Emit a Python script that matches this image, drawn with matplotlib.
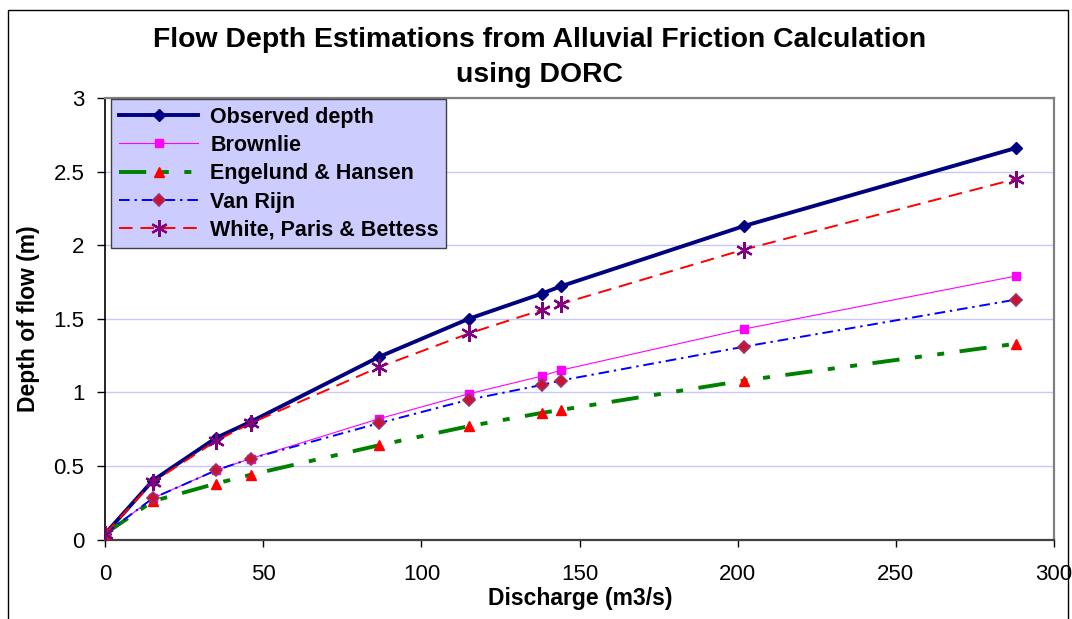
import matplotlib
matplotlib.use("Agg")
import matplotlib.pyplot as plt
from matplotlib.patches import Rectangle

plt.rcParams['font.family'] = ['Liberation Sans', 'DejaVu Sans']

# ---- data ----
discharge = [0, 15, 35, 46, 86.5, 115, 138, 144, 202, 288]
observed = [0.04, 0.40, 0.69, 0.80, 1.24, 1.50, 1.67, 1.72, 2.13, 2.66]
brownlie = [0.04, 0.28, 0.47, 0.55, 0.82, 0.99, 1.11, 1.15, 1.43, 1.79]
engelund = [0.04, 0.26, 0.38, 0.44, 0.64, 0.77, 0.86, 0.88, 1.08, 1.33]
van_rijn = [0.04, 0.28, 0.47, 0.55, 0.79, 0.95, 1.05, 1.08, 1.31, 1.63]
white_pb = [0.04, 0.39, 0.67, 0.79, 1.17, 1.40, 1.56, 1.60, 1.97, 2.45]

x_ticks = [0, 50, 100, 150, 200, 250, 300]
y_ticks = [0, 0.5, 1, 1.5, 2, 2.5, 3]
y_tick_labels = ['0', '0.5', '1', '1.5', '2', '2.5', '3']

title = "Flow Depth Estimations from Alluvial Friction Calculation\nusing DORC"
x_label = "Discharge (m3/s)"
y_label = "Depth of flow (m)"

W, H = 1072, 619
fig = plt.figure(figsize=(W / 100, H / 100), dpi=100)
ax = fig.add_axes([105.3 / W, 1 - 539.5 / H, (1053.7 - 105.3) / W, (539.5 - 98) / H])

# outer chart border
fig.patches.append(Rectangle((8 / W, -0.05), (1068 - 8) / W, 1.05 - 10 / H,
                             transform=fig.transFigure, fill=False,
                             edgecolor='black', linewidth=1.0))

# series
ax.plot(discharge, observed, color='#000080', lw=2.8, marker='D', ms=6,
        mfc='#000080', mec='#000080', label='Observed depth', zorder=3)
ax.plot(discharge, brownlie, color='#FF00FF', lw=0.8, marker='s', ms=6,
        mfc='#FF00FF', mec='#FF00FF', label='Brownlie', zorder=4)
ax.plot(discharge, engelund, color='#008000', lw=2.8,
        linestyle=(0, (7, 4, 1.8, 4, 1.8, 4)), marker='^', ms=7.5,
        mfc='#FF0000', mec='#FF0000', label='Engelund & Hansen', zorder=5)
ax.plot(discharge, van_rijn, color='#0000FF', lw=1.4,
        linestyle=(0, (5.5, 2.5, 1.2, 2.5)), marker='D', ms=6,
        mfc='#CC1133', mec='#993366', mew=1.2, label='Van Rijn', zorder=6)
ax.plot(discharge, white_pb, color='#FF0000', lw=1.4,
        linestyle=(0, (7, 4)), marker=(6, 2, 0), ms=12, mew=1.6,
        mfc='#800080', mec='#800080', label='White, Paris & Bettess', zorder=7)

ax.set_xlim(0, 300)
ax.set_ylim(0, 3)
ax.set_xticks(x_ticks)
ax.set_yticks(y_ticks)
ax.set_yticklabels(y_tick_labels)
ax.tick_params(axis='both', labelsize=16, direction='out', colors='black',
               width=1.0)
ax.tick_params(axis='y', length=6, pad=9)
ax.tick_params(axis='x', length=5, pad=13)

ax.grid(axis='y', color='#C8C8FF', linewidth=1.0)
ax.set_axisbelow(True)

for side in ('top', 'right'):
    ax.spines[side].set_color('#808080')
    ax.spines[side].set_linewidth(1.6)
ax.spines['left'].set_color('black')
ax.spines['left'].set_linewidth(1.2)
ax.spines['bottom'].set_color('#404040')
ax.spines['bottom'].set_linewidth(1.6)

ax.set_xlabel(x_label, fontsize=16.5, fontweight='bold')
ax.set_ylabel(y_label, fontsize=16.5, fontweight='bold')
ax.xaxis.set_label_coords((580 - 105.3) / 948.4, -(587 - 539.5) / 441.5)
ax.yaxis.set_label_coords(-(105.3 - 40) / 948.4, 0.5)

fig.text(0.5035, 1 - 57.5 / H, title, ha='center', va='center', fontsize=20.4,
         fontweight='bold', linespacing=1.47)

leg = ax.legend(loc='upper left', bbox_to_anchor=(6.0 / 948.4, 0.9977),
                prop={'weight': 'bold', 'size': 15.5},
                frameon=True, fancybox=False, framealpha=1.0,
                facecolor='#CCCCFF', edgecolor='#404040',
                handlelength=3.7, handletextpad=0.55, labelspacing=0.34,
                borderpad=0.35, borderaxespad=0)
leg.get_frame().set_linewidth(1.0)
leg.set_zorder(10)

fig.savefig('out.png', dpi=100)
